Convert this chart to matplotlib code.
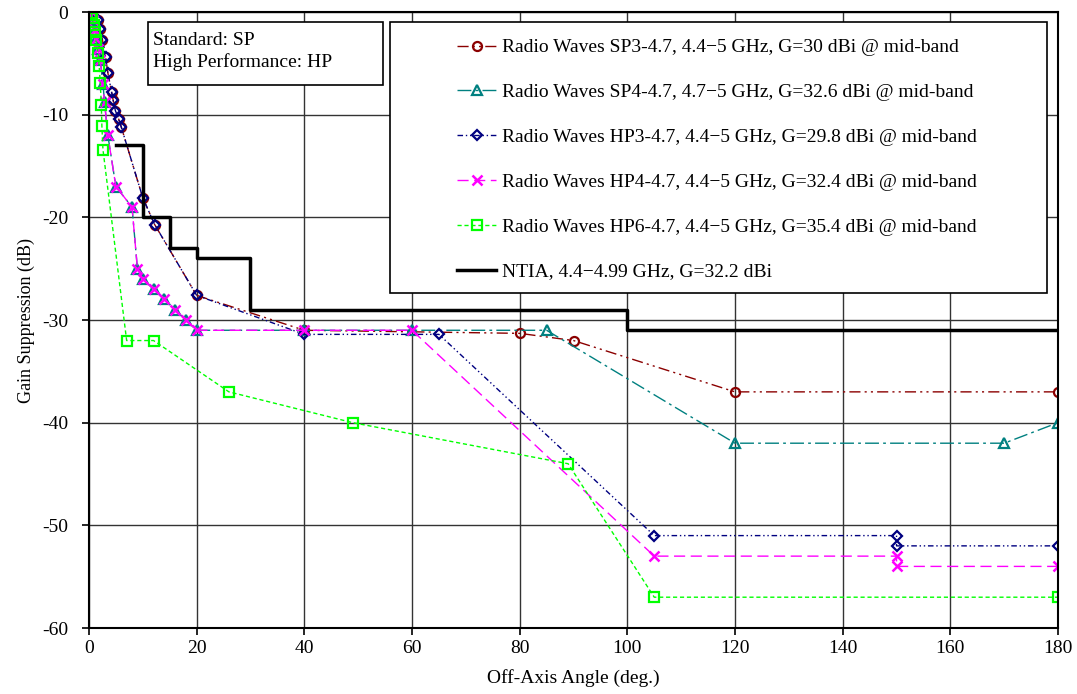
import matplotlib
matplotlib.use("Agg")
import matplotlib.pyplot as plt
from matplotlib.patches import Rectangle

plt.rcParams['font.family'] = ['Liberation Serif', 'DejaVu Serif']
plt.rcParams['axes.unicode_minus'] = False

# off-axis angle (deg) / gain suppression (dB)
sp3_ang = [0.5, 1.7, 2.1, 2.5, 3.1, 3.5, 4.2, 4.5, 4.9, 5.5, 6.0, 10, 12.2, 20, 40, 80, 90, 120, 180]
sp3_db = [0, -0.8, -1.7, -2.7, -4.4, -5.9, -7.8, -8.6, -9.6, -10.4, -11.2, -18.1, -20.7, -27.6, -31, -31.3, -32, -37, -37]

sp4_ang = [0.5, 0.7, 1.2, 1.4, 1.7, 2.1, 2.6, 2.9, 3.5, 5, 8, 9, 10, 12, 14, 16, 18, 20, 40, 60, 85, 120, 170, 180]
sp4_db = [0, -0.8, -1.8, -2.6, -3.6, -4.7, -7, -8.8, -12, -17, -19, -25, -26, -27, -28, -29, -30, -31, -31, -31, -31, -42, -42, -40]

hp3_ang = [0.5, 1.7, 2.1, 2.5, 3.1, 3.5, 4.2, 4.5, 4.9, 5.5, 6.0, 10, 12.2, 20, 40, 65, 105, 150, 150, 180]
hp3_db = [0, -0.8, -1.7, -2.7, -4.4, -5.9, -7.8, -8.6, -9.6, -10.4, -11.2, -18.1, -20.7, -27.6, -31.4, -31.4, -51, -51, -52, -52]

hp4_ang = [0.5, 0.7, 1.2, 1.4, 1.7, 2.1, 2.6, 2.9, 3.5, 5, 8, 9, 10, 12, 14, 16, 18, 20, 40, 60, 105, 150, 150, 180]
hp4_db = [0, -0.8, -1.8, -2.6, -3.6, -4.7, -7, -8.8, -12, -17, -19, -25, -26, -27, -28, -29, -30, -31, -31, -31, -53, -53, -54, -54]

hp6_ang = [0.45, 0.6, 0.85, 1.05, 1.25, 1.7, 1.9, 2.1, 2.3, 2.4, 2.6, 7, 12, 26, 49, 89, 105, 180]
hp6_db = [-0.1, -0.6, -1.3, -1.9, -2.7, -4.0, -5.3, -6.9, -9.1, -11.1, -13.4, -32, -32, -37, -40, -44, -57, -57]

ntia_ang = [5, 10, 15, 20, 30, 100, 180]
ntia_db = [-13, -20, -23, -24, -29, -31, -31]

labels = [
    "Radio Waves SP3-4.7, 4.4\u22125 GHz, G=30 dBi @ mid-band",
    "Radio Waves SP4-4.7, 4.7\u22125 GHz, G=32.6 dBi @ mid-band",
    "Radio Waves HP3-4.7, 4.4\u22125 GHz, G=29.8 dBi @ mid-band",
    "Radio Waves HP4-4.7, 4.4\u22125 GHz, G=32.4 dBi @ mid-band",
    "Radio Waves HP6-4.7, 4.4\u22125 GHz, G=35.4 dBi @ mid-band",
    "NTIA, 4.4\u22124.99 GHz, G=32.2 dBi",
]

fig = plt.figure(figsize=(10.77, 6.94), dpi=100)
ax = fig.add_axes([0.0826, 0.0951, 0.8998, 0.8876])

ax.plot(sp3_ang, sp3_db, color='#8B0000', lw=1, ls=(0, (8, 3, 1.5, 3, 1.5, 3)),
        marker='o', ms=6.5, mfc='none', mew=1.6, label=labels[0])
ax.plot(sp4_ang, sp4_db, color='#008080', lw=1, ls=(0, (10, 3, 2, 3)),
        marker='^', ms=6.5, mfc='none', mew=1.6, label=labels[1])
ax.plot(hp3_ang, hp3_db, color='#000080', lw=1, ls=(0, (4, 2, 1, 2, 1, 2)),
        marker='D', ms=5, mfc='none', mew=1.6, label=labels[2])
ax.plot(hp4_ang, hp4_db, color='#FF00FF', lw=1, ls=(0, (8, 4)),
        marker='x', ms=7, mew=1.8, label=labels[3])
ax.plot(hp6_ang, hp6_db, color='#00FF00', lw=1, ls=(0, (3, 2)),
        marker='s', ms=6.5, mfc='none', mew=1.6, label=labels[4])
ax.plot(ntia_ang, ntia_db, color='black', lw=2.5, drawstyle='steps-post', label=labels[5])

ax.set_xlim(0, 180)
ax.set_ylim(-60, 0)
ax.set_xticks(range(0, 181, 20))
ax.set_yticks(range(-60, 1, 10))
ax.grid(True, color='#333333', lw=1)
ax.set_axisbelow(True)
for s in ax.spines.values():
    s.set_linewidth(1.5)
ax.tick_params(direction='out', length=5, width=1.2, labelsize=14)
ax.tick_params(axis='y', pad=10)
ax.set_xlabel("Off-Axis Angle (deg.)", fontsize=14, labelpad=9)
ax.set_ylabel("Gain Suppression (dB)", fontsize=13, labelpad=5)

# text box
ax.add_patch(Rectangle((0.061, 0.8815), 0.2425, 0.1025, transform=ax.transAxes,
                       facecolor='white', edgecolor='black', lw=1.2, zorder=5))
ax.text(0.066, 0.967, "Standard: SP\nHigh Performance: HP", transform=ax.transAxes,
        va='top', ha='left', fontsize=14, linespacing=1.3, zorder=6)

# legend with separately drawn frame
ax.add_patch(Rectangle((0.311, 0.544), 0.678, 0.44, transform=ax.transAxes,
                       facecolor='white', edgecolor='black', lw=1.2, zorder=5))
leg = ax.legend(loc='upper left', bbox_to_anchor=(0.362, 0.985), frameon=False,
                fontsize=14, handlelength=2.0, handletextpad=0.3, labelspacing=1.4)
leg.set_zorder(6)

fig.savefig("out.png", dpi=100)
